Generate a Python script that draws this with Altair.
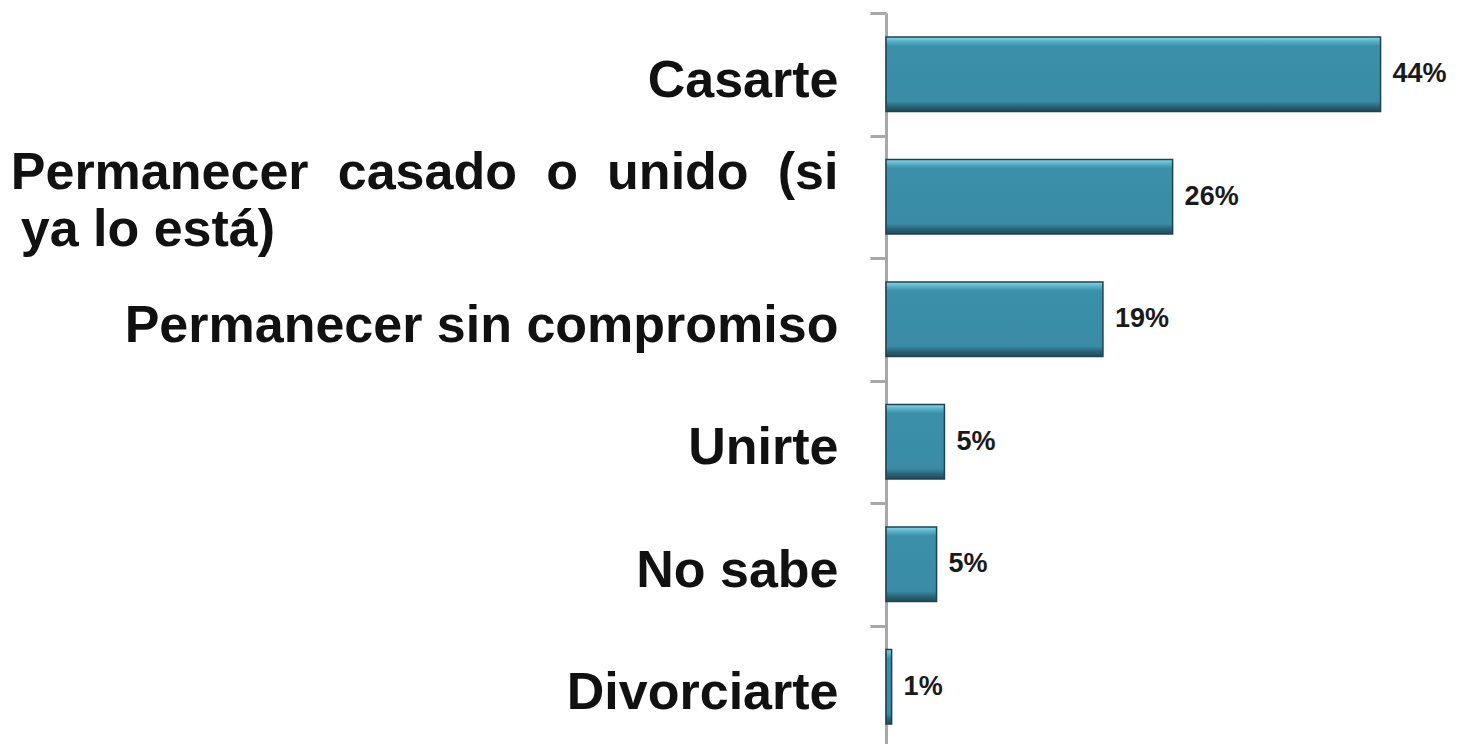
import altair as alt
import pandas as pd

categories = [
    "Casarte",
    "Permanecer casado o unido (si ya lo está)",
    "Permanecer sin compromiso",
    "Unirte",
    "No sabe",
    "Divorciarte",
]
values = [44, 25.5, 19.3, 5.2, 4.5, 0.5]
value_labels = ["44%", "26%", "19%", "5%", "5%", "1%"]

df = pd.DataFrame({"cat": categories, "val": values, "lab": value_labels})

NB = "\u00a0"
GAP = NB + "\u2009" + "\u200a"
line1 = "Permanecer" + GAP + "casado" + GAP + "o" + GAP + "unido" + GAP + "(si"
line2 = "ya lo está)" + NB * 39 + "\u200b"
label_expr = (
    f"datum.value == '{categories[1]}' ? ['{line1}', '{line2}'] : datum.value"
)

y_enc = alt.Y(
    "cat:N",
    sort=categories,
    scale=alt.Scale(paddingInner=0, paddingOuter=0),
    axis=alt.Axis(
        title=None,
        labelFont="Liberation Sans",
        labelFontWeight="bold",
        labelFontSize=52,
        labelColor="#111111",
        labelPadding=32,
        labelLineHeight=57,
        labelExpr=label_expr,
        labelOffset={
            "condition": {"test": f"datum.value == '{categories[1]}'", "value": -24},
            "value": 6,
        },
        labelLimit=0,
        tickBand="extent",
        tickSize=16,
        tickWidth=3,
        tickColor="#a8a8a8",
        domainColor="#a8a8a8",
        domainWidth=3,
        grid=False,
    ),
)

x_enc = alt.X(
    "val:Q",
    scale=alt.Scale(domain=[0, 50], nice=False),
    axis=None,
)

grad = alt.Gradient(
    gradient="linear",
    stops=[
        alt.GradientStop(color="#8fd6e8", offset=0),
        alt.GradientStop(color="#56b2ca", offset=0.06),
        alt.GradientStop(color="#3b8fa9", offset=0.12),
        alt.GradientStop(color="#3a8ca6", offset=0.86),
        alt.GradientStop(color="#2a6477", offset=0.93),
        alt.GradientStop(color="#1f4a58", offset=1),
    ],
    x1=0, x2=0, y1=0, y2=1,
)

bars = alt.Chart(df).mark_bar(
    height={"band": 0.61},
    fill=grad,
    stroke="#1f4350",
    strokeWidth=1.5,
).encode(x=x_enc, y=y_enc)

texts = alt.Chart(df).mark_text(
    align="left",
    baseline="middle",
    dx=12,
    font="Liberation Sans",
    fontWeight="bold",
    fontSize=27,
    color="#1a1a1a",
).encode(x=x_enc, y=alt.Y("cat:N", sort=categories), text="lab:N")

chart = (
    alt.layer(bars, texts)
    .properties(
        width=562,
        height=735,
        autosize=alt.AutoSizeParams(type="none"),
        padding={"left": 878, "top": 5, "right": 0, "bottom": 0},
        background="white",
    )
    .configure_view(stroke=None)
)

chart.save("out.html", embed_options={"renderer": "svg", "actions": False})
